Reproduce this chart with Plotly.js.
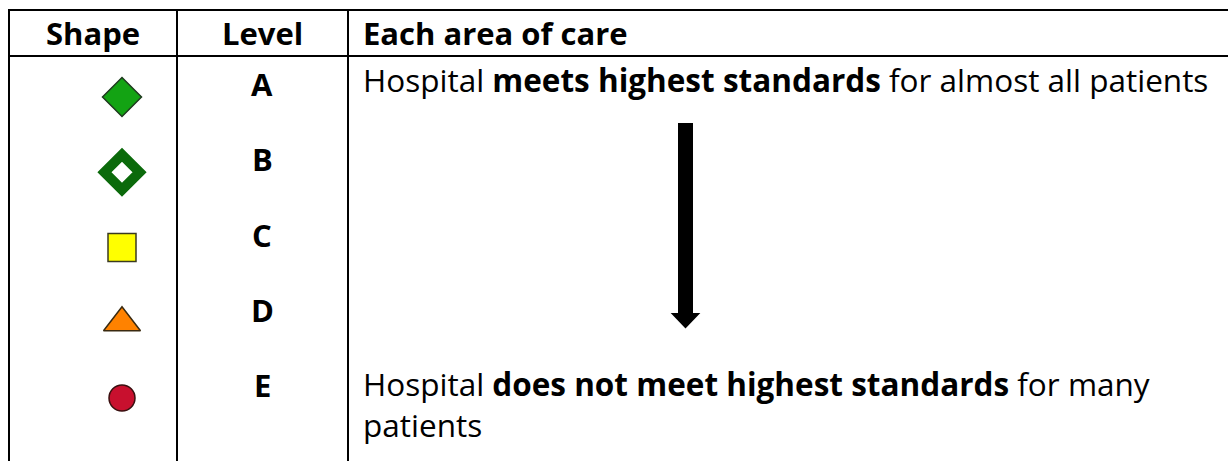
<!DOCTYPE html>
<html>
<head>
<meta charset="utf-8">
<script src="https://cdn.plot.ly/plotly-3.0.1.min.js"></script>
<style>html,body{margin:0;padding:0;background:#fff;}#chart{width:1228px;height:461px;}</style>
</head>
<body>
<div id="chart"></div>
<script>
// ---- data ----
var columnHeaders = ["Shape", "Level", "Each area of care"];
var levels = ["A", "B", "C", "D", "E"];
var shapeSymbols = ["diamond", "diamond-open", "square", "triangle-up", "circle"];
var shapeColors = ["#13a313", "#0b6a0b", "#ffff00", "#ff8200", "#c8102e"];
var topDescription = ["Hospital ", "meets highest standards", " for almost all patients"];
var bottomDescription = ["Hospital ", "does not meet highest standards", " for many", "patients"];

// ---- layout helpers (pixel -> paper) ----
var W = 1228, H = 461;
function px(x) { return x / W; }
function py(y) { return 1 - y / H; }
var FONT = "'Open Sans', sans-serif";
var FS = 31;

var shapeX = levels.map(function () { return 122; });
var markerSizes = [30, 27, 28, 32, 26];
var lineWidths = [1.5, 10, 1.5, 1.5, 1.5];
var lineColors = ["#1e3a1e", "#0b6a0b", "#3a3a20", "#3a2a10", "#3a1010"];

var traces = [{
  type: "scatter",
  mode: "markers",
  x: shapeX,
  y: levels,
  marker: {
    symbol: shapeSymbols,
    color: shapeColors,
    size: markerSizes,
    opacity: 1,
    line: { width: lineWidths, color: lineColors }
  },
  hoverinfo: "skip",
  showlegend: false
}];

function txt(x, y, text, anchor, xref, yref, yshift, size) {
  return { xref: xref || "paper", yref: yref || "paper", x: x, y: y, yshift: yshift || 0, text: text, showarrow: false,
           xanchor: anchor, yanchor: "middle", align: "left", font: { family: FONT, size: size || FS, color: "#000" } };
}

var annotations = [];
annotations.push(txt(px(93), py(33), "<b>" + columnHeaders[0] + "</b>", "center"));
annotations.push(txt(px(262), py(33), "<b>" + columnHeaders[1] + "</b>", "center"));
annotations.push(txt(px(361), py(33), "<b>" + columnHeaders[2] + "</b>", "left"));
levels.forEach(function (lv) {
  annotations.push(txt(262, lv, "<b>" + lv + "</b>", "center", "x", "y", 13));
});
annotations.push(txt(px(361), py(79), topDescription[0] + "<b>" + topDescription[1] + "</b>" + topDescription[2], "left", null, null, 0, 31.5));
annotations.push(txt(px(361), py(403.5), bottomDescription[0] + "<b>" + bottomDescription[1] + "</b>" + bottomDescription[2] + "<br>" + bottomDescription[3], "left", null, null, 0, 31.5));

var lineStyle = { color: "#000", width: 2 };
var shapes = [
  { type: "line", xref: "paper", yref: "paper", x0: px(8), x1: 1, y0: py(10), y1: py(10), line: lineStyle },
  { type: "line", xref: "paper", yref: "paper", x0: px(8), x1: 1, y0: py(56), y1: py(56), line: lineStyle },
  { type: "line", xref: "paper", yref: "paper", x0: px(9), x1: px(9), y0: py(9), y1: 0, line: lineStyle },
  { type: "line", xref: "paper", yref: "paper", x0: px(177), x1: px(177), y0: py(9), y1: 0, line: lineStyle },
  { type: "line", xref: "paper", yref: "paper", x0: px(348), x1: px(348), y0: py(9), y1: 0, line: lineStyle },
  { type: "path", xref: "paper", yref: "paper",
    path: "M " + px(679) + "," + py(124) + " L " + px(692) + "," + py(124) + " L " + px(692) + "," + py(314) + " L " + px(698) + "," + py(314) +
          " L " + px(685.5) + "," + py(327) + " L " + px(673) + "," + py(314) + " L " + px(679) + "," + py(314) + " Z",
    fillcolor: "#000", line: { color: "#000", width: 2 } }
];

// category axis: index 0 (A) at pixel 97, 75.25 px per level
var stepPx = 75.25, idxTop = -97 / stepPx, idxBottom = idxTop + H / stepPx;

var layout = {
  width: W, height: H,
  margin: { l: 0, r: 0, t: 0, b: 0, pad: 0 },
  paper_bgcolor: "#fff", plot_bgcolor: "#fff",
  xaxis: { range: [0, W], autorange: false, visible: false, fixedrange: true },
  yaxis: { type: "category", categoryorder: "array", categoryarray: levels, range: [idxBottom, idxTop], autorange: false, visible: false, fixedrange: true },
  annotations: annotations,
  shapes: shapes,
  showlegend: false
};

Plotly.newPlot("chart", traces, layout, { staticPlot: true, displayModeBar: false });
</script>
</body>
</html>
